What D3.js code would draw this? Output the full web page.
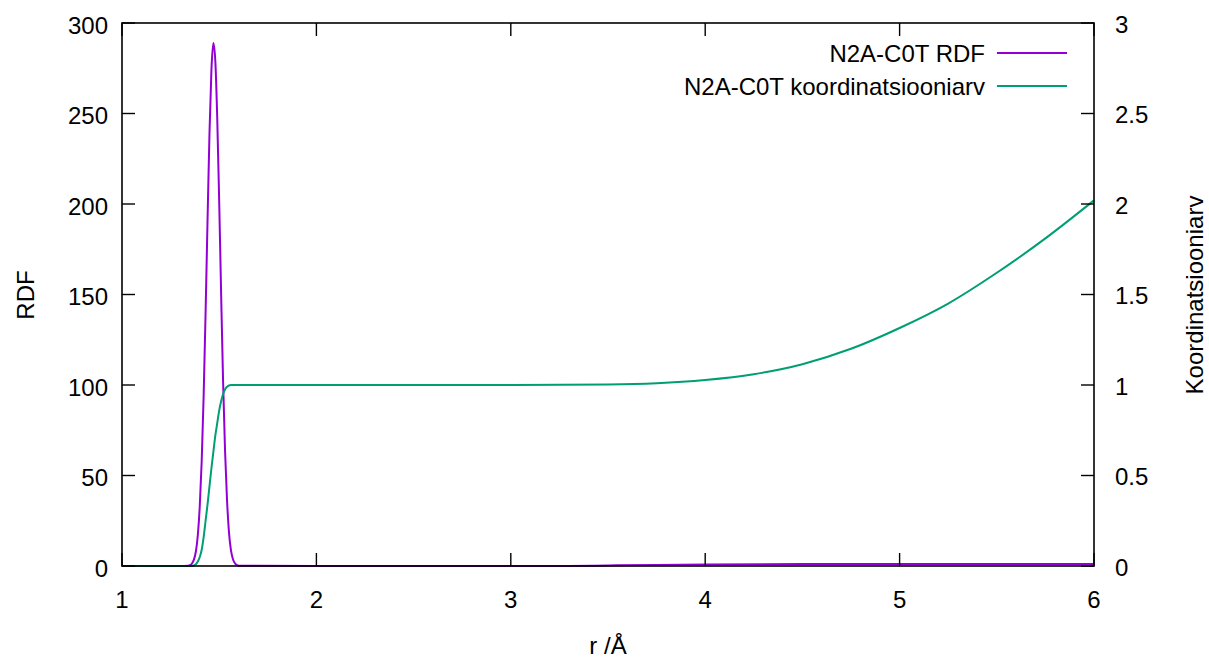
<!DOCTYPE html>
<html>
<head>
<meta charset="utf-8">
<script src="https://cdn.jsdelivr.net/npm/d3@7"></script>
<style>
  html, body { margin: 0; padding: 0; background: #fff; }
  svg { display: block; }
  text { font-family: "Liberation Sans", Arial, sans-serif; font-size: 24px; fill: #000; }
</style>
</head>
<body>
<svg id="chart" width="1209" height="661"></svg>
<script>
// ---- data ----
const rdfR = [1.00, 1.30, 1.34, 1.35, 1.36, 1.37, 1.38, 1.39, 1.40, 1.41, 1.42, 1.43, 1.44, 1.45, 1.46, 1.47,
              1.48, 1.49, 1.50, 1.51, 1.52, 1.53, 1.54, 1.55, 1.56, 1.57, 1.58, 1.59, 1.60, 2.00, 2.50,
              3.00, 3.30, 3.50, 3.75, 4.00, 4.50, 5.00, 5.50, 6.00];
const rdfG = [0, 0, 0.2, 0.5, 1.4, 3.5, 8, 17, 33, 58, 94, 140, 191, 239, 274, 289,
              279, 247, 201, 150, 102, 64, 37, 19, 9, 4, 1.7, 0.6, 0.2, 0, 0,
              0, 0.05, 0.3, 0.6, 0.85, 1.05, 1.1, 1.1, 1.15];

const cnR = [1.00, 1.36, 1.37, 1.38, 1.39, 1.40, 1.41, 1.42, 1.43, 1.44, 1.45, 1.46, 1.47, 1.48, 1.49,
             1.50, 1.51, 1.52, 1.53, 1.54, 1.56, 2.00, 3.00, 3.50, 3.75, 4.00, 4.25, 4.50, 4.75,
             5.00, 5.25, 5.50, 5.75, 6.00];
const cnN = [0, 0, 0.003, 0.01, 0.025, 0.05, 0.09, 0.16, 0.25, 0.34, 0.44, 0.54, 0.63, 0.72, 0.79,
             0.86, 0.91, 0.95, 0.975, 0.99, 1.0, 1.0, 1.0, 1.003, 1.01, 1.028, 1.06, 1.115, 1.2,
             1.315, 1.45, 1.62, 1.81, 2.02];

const xTicks = [1, 2, 3, 4, 5, 6];
const yTicks = [0, 50, 100, 150, 200, 250, 300];
const y2Ticks = [0, 0.5, 1, 1.5, 2, 2.5, 3];
const y2TickLabels = ["0", "0.5", "1", "1.5", "2", "2.5", "3"];

const seriesNames = ["N2A-C0T RDF", "N2A-C0T koordinatsiooniarv"];
const seriesColors = ["#9400d3", "#009e73"];
const xTitle = "r /Å", yTitle = "RDF", y2Title = "Koordinatsiooniarv";

// ---- layout ----
const L = 122, R = 1094, T = 23, B = 566;
const svg = d3.select("#chart");

const x = d3.scaleLinear().domain([1, 6]).range([L, R]);
const y = d3.scaleLinear().domain([0, 300]).range([B, T]);
const y2 = d3.scaleLinear().domain([0, 3]).range([B, T]);

const tickLen = 13;
const axisColor = "#000";

// lines (drawn first; border is in front, as in gnuplot)
const rdfData = rdfR.map((r, i) => [r, rdfG[i]]);
const cnData = cnR.map((r, i) => [r, cnN[i]]);

const lineRdf = d3.line().x(d => x(d[0])).y(d => y(d[1])).curve(d3.curveMonotoneX);
const lineCn = d3.line().x(d => x(d[0])).y(d => y2(d[1])).curve(d3.curveMonotoneX);

svg.append("path").datum(rdfData).attr("d", lineRdf)
  .attr("fill", "none").attr("stroke", seriesColors[0]).attr("stroke-width", 2);
svg.append("path").datum(cnData).attr("d", lineCn)
  .attr("fill", "none").attr("stroke", seriesColors[1]).attr("stroke-width", 2);

// frame
svg.append("rect").attr("x", L).attr("y", T).attr("width", R - L).attr("height", B - T)
  .attr("fill", "none").attr("stroke", axisColor).attr("stroke-width", 1.6);

// x ticks (bottom + mirrored top)
const gx = svg.append("g");
xTicks.forEach(v => {
  const px = x(v);
  gx.append("line").attr("x1", px).attr("x2", px).attr("y1", B).attr("y2", B - tickLen)
    .attr("stroke", axisColor).attr("stroke-width", 1.4);
  gx.append("line").attr("x1", px).attr("x2", px).attr("y1", T).attr("y2", T + tickLen)
    .attr("stroke", axisColor).attr("stroke-width", 1.4);
  gx.append("text").attr("x", px).attr("y", 608).attr("text-anchor", "middle").text(v);
});

// left y ticks
yTicks.forEach(v => {
  const py = y(v);
  svg.append("line").attr("x1", L).attr("x2", L + tickLen).attr("y1", py).attr("y2", py)
    .attr("stroke", axisColor).attr("stroke-width", 1.4);
  svg.append("text").attr("x", 108).attr("y", py + 10.5).attr("text-anchor", "end").text(v);
});

// right y2 ticks
y2Ticks.forEach((v, i) => {
  const py = y2(v);
  svg.append("line").attr("x1", R).attr("x2", R - tickLen).attr("y1", py).attr("y2", py)
    .attr("stroke", axisColor).attr("stroke-width", 1.4);
  svg.append("text").attr("x", 1115).attr("y", py + 9.5).attr("text-anchor", "start").text(y2TickLabels[i]);
});

// axis titles
svg.append("text").attr("x", 608).attr("y", 654).attr("text-anchor", "middle").text(xTitle);
svg.append("text").attr("transform", `translate(34,295) rotate(-90)`).attr("text-anchor", "middle").text(yTitle);
svg.append("text").attr("transform", `translate(1203,295) rotate(-90)`).attr("text-anchor", "middle").text(y2Title);

// legend
const legY = [53, 86];
seriesNames.forEach((name, i) => {
  svg.append("text").attr("x", 985).attr("y", legY[i] + 8.5).attr("text-anchor", "end").text(name);
  svg.append("line").attr("x1", 997).attr("x2", 1067).attr("y1", legY[i]).attr("y2", legY[i])
    .attr("stroke", seriesColors[i]).attr("stroke-width", 2);
});
</script>
</body>
</html>
